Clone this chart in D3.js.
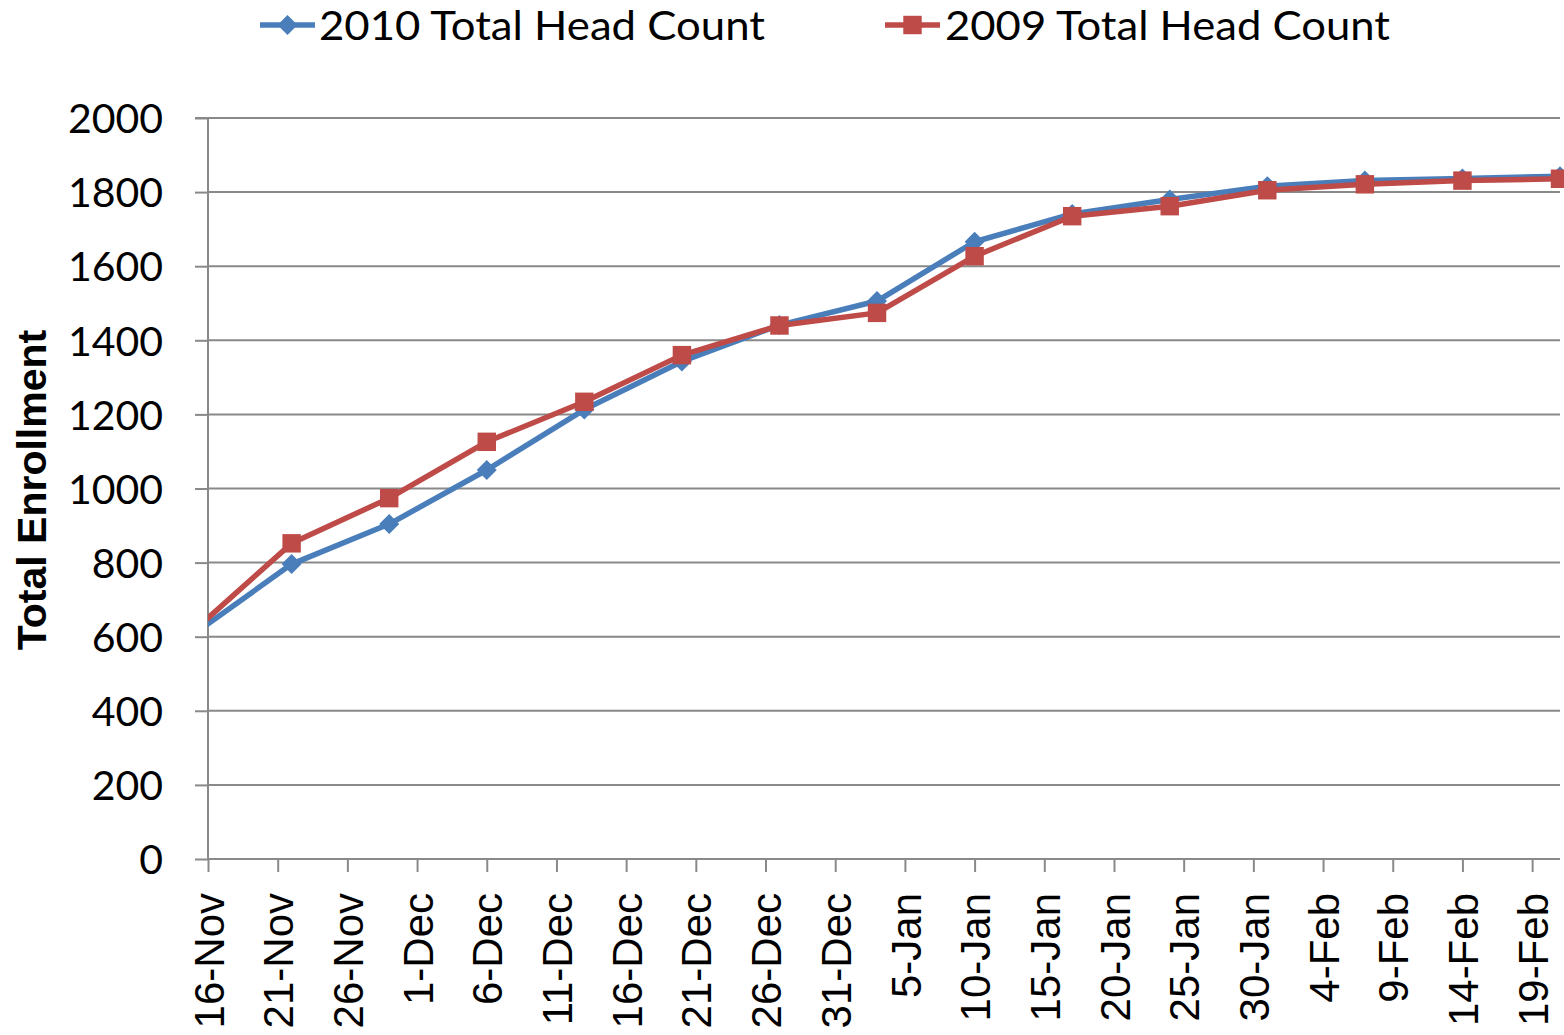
<!DOCTYPE html>
<html><head><meta charset="utf-8">
<script src="https://cdn.jsdelivr.net/npm/d3@7"></script>
<style>body{margin:0;background:#fff}svg{display:block}</style>
</head><body>
<svg id="c" width="1564" height="1035"></svg>
<script>
const dates = ["2009-11-15","2009-11-22","2009-11-29","2009-12-06","2009-12-13","2009-12-20","2009-12-27","2010-01-03","2010-01-10","2010-01-17","2010-01-24","2010-01-31","2010-02-07","2010-02-14","2010-02-21"];
const hc2010 = [608, 796, 904, 1050, 1213, 1343, 1441, 1506, 1666, 1741, 1780, 1816, 1831, 1837, 1843];
const hc2009 = [617, 852, 974, 1126, 1234, 1360, 1440, 1474, 1627, 1735, 1762, 1805, 1821, 1831, 1836];
const seriesNames = ["2010 Total Head Count", "2009 Total Head Count"];
const xDomain = ["2009-11-16", "2010-02-21"];
const xTicks = ["2009-11-16","2009-11-21","2009-11-26","2009-12-01","2009-12-06","2009-12-11","2009-12-16","2009-12-21","2009-12-26","2009-12-31","2010-01-05","2010-01-10","2010-01-15","2010-01-20","2010-01-25","2010-01-30","2010-02-04","2010-02-09","2010-02-14","2010-02-19"];
const yTicks = [0,200,400,600,800,1000,1200,1400,1600,1800,2000];
const yTitle = "Total Enrollment";

const parse = d3.utcParse("%Y-%m-%d");
const fmt = d3.utcFormat("%-d-%b");
const svg = d3.select("#c");
const L = 208, R = 1560, T = 118, B = 859;
const x = d3.scaleUtc().domain(xDomain.map(parse)).range([L, R]);
const y = d3.scaleLinear().domain([0, 2000]).range([B, T]);
const grid = "#898989";
const calib = "Lato, 'Open Sans', sans-serif";

// gridlines
svg.append("g").selectAll("line").data(yTicks.filter(v => v > 0)).join("line")
  .attr("x1", L).attr("x2", R).attr("y1", d => y(d)).attr("y2", d => y(d))
  .attr("stroke", grid).attr("stroke-width", 2);

// y axis
const ya = svg.append("g").attr("transform", `translate(${L},0)`)
  .call(d3.axisLeft(y).tickValues(yTicks).tickSize(13).tickPadding(32).tickFormat(d3.format("d")));
ya.select(".domain").attr("stroke", grid).attr("stroke-width", 2).attr("d", `M-13,${T}H0V${B}`);
ya.selectAll(".tick line").attr("stroke", grid).attr("stroke-width", 2);
ya.selectAll(".tick text").attr("font-family", calib).attr("font-size", 41).attr("fill", "#000").attr("dy", "0.36em");

// x axis
const xa = svg.append("g").attr("transform", `translate(0,${B})`)
  .call(d3.axisBottom(x).tickValues(xTicks.map(parse)).tickSize(13).tickFormat(fmt));
xa.select(".domain").attr("stroke", grid).attr("stroke-width", 2).attr("d", `M${L},0H${R}`);
xa.selectAll(".tick line").attr("stroke", grid).attr("stroke-width", 2);
xa.selectAll(".tick text").attr("font-family", "'Liberation Sans', Arial, sans-serif").attr("font-size", 42)
  .attr("fill", "#000").attr("text-anchor", "end").attr("transform", "rotate(-90)")
  .attr("x", -34).attr("y", 0).attr("dy", "0.36em");

// y title
svg.append("text").attr("transform", "translate(46,490) rotate(-90)").attr("text-anchor", "middle")
  .attr("font-family", "'Liberation Sans', Arial, sans-serif").attr("font-weight", "bold").attr("font-size", 41)
  .text(yTitle);

// clip
svg.append("clipPath").attr("id", "clip").append("rect").attr("x", L).attr("y", 0).attr("width", 1564 - L).attr("height", 1035);

const series = [
  {name: seriesNames[0], vals: hc2010, color: "#4A7EBB", shape: d3.symbolSquare, size: 200, rot: 45},
  {name: seriesNames[1], vals: hc2009, color: "#BE4B48", shape: d3.symbolSquare, size: 340, rot: 0}
];
const x0 = parse(xDomain[0]);
const lineGen = d3.line().x(d => x(d.date)).y(d => y(d.v));
series.forEach(s => {
  const pts = dates.map((dd, i) => ({date: parse(dd), v: s.vals[i]}));
  svg.append("path").datum(pts).attr("d", lineGen).attr("fill", "none")
    .attr("stroke", s.color).attr("stroke-width", 5.5).attr("stroke-linejoin", "round")
    .attr("clip-path", "url(#clip)");
  svg.append("g").selectAll("path").data(pts.filter(p => p.date >= x0)).join("path")
    .attr("transform", p => `translate(${x(p.date)},${y(p.v)}) rotate(${s.rot})`)
    .attr("d", d3.symbol().type(s.shape).size(s.size)).attr("fill", s.color);
});

// legend
const legendPos = [{lx: 260, tx: 319, tw: 446}, {lx: 885, tx: 945, tw: 445}];
series.forEach((s, i) => {
  const g = svg.append("g");
  const p = legendPos[i];
  g.append("line").attr("x1", p.lx).attr("x2", p.lx + 55).attr("y1", 25).attr("y2", 25)
    .attr("stroke", s.color).attr("stroke-width", 5.5);
  g.append("path").attr("transform", `translate(${p.lx + 27.5},25) rotate(${s.rot})`)
    .attr("d", d3.symbol().type(s.shape).size(s.size)).attr("fill", s.color);
  g.append("text").attr("x", p.tx).attr("y", 25).attr("dy", "0.36em")
    .attr("font-family", calib).attr("font-size", 41).attr("fill", "#000")
    .attr("textLength", p.tw).attr("lengthAdjust", "spacingAndGlyphs").text(s.name);
});
</script>
</body></html>
